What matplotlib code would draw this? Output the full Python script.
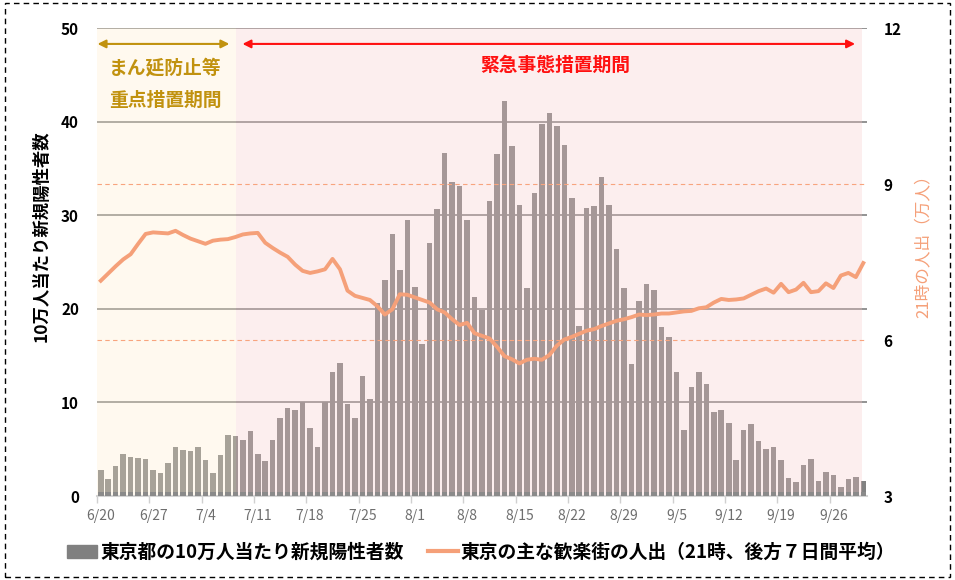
import matplotlib
matplotlib.use("Agg")
import matplotlib.pyplot as plt
from matplotlib.patches import Rectangle
from matplotlib.lines import Line2D
import numpy as np
import pandas as pd

plt.rcParams['font.family'] = ['Noto Sans CJK JP', 'DejaVu Sans']

# 2021/6/20 - 9/30, daily
dates = pd.date_range('2021-06-20', '2021-09-30')

# new positives per 100k (Tokyo)
cases = [2.78, 1.78, 3.24, 4.52, 4.17, 4.06, 3.92, 2.78, 2.42, 3.49,
         5.2, 4.91, 4.81, 5.2, 3.81, 2.49, 4.34, 6.55, 6.44, 5.98,
         6.94, 4.52, 3.7, 5.98, 8.3, 9.4, 9.22, 10.0, 7.3, 5.27,
         10.0, 13.2, 14.2, 9.8, 8.3, 12.85, 10.4, 20.65, 23.1, 27.96,
         24.2, 29.5, 22.3, 16.2, 27.0, 30.7, 36.7, 33.5, 33.1, 29.5,
         21.3, 19.9, 31.55, 36.5, 42.2, 37.4, 31.1, 22.25, 32.4, 39.7,
         40.9, 39.5, 37.5, 31.8, 18.2, 30.8, 31.0, 34.05, 31.1, 26.35,
         22.25, 14.1, 20.8, 22.7, 22.0, 18.1, 16.95, 13.3, 7.0, 11.7,
         13.2, 12.0, 8.94, 9.22, 7.76, 3.81, 7.0, 7.66, 5.84, 5.06,
         5.2, 3.81, 1.96, 1.5, 3.35, 3.99, 1.57, 2.6, 2.21, 1.0,
         1.78, 2.03, 1.57]

# people out at 21:00 in main nightlife districts (10k people, 7-day avg)
crowd = [7.14, 7.28, 7.42, 7.55, 7.65, 7.85, 8.04, 8.07, 8.06, 8.05,
         8.10, 8.02, 7.95, 7.90, 7.85, 7.91, 7.93, 7.94, 7.98, 8.03,
         8.05, 8.06, 7.87, 7.77, 7.68, 7.60, 7.45, 7.33, 7.29, 7.32,
         7.36, 7.56, 7.36, 6.95, 6.85, 6.81, 6.77, 6.65, 6.49, 6.59,
         6.88, 6.87, 6.82, 6.77, 6.72, 6.59, 6.53, 6.40, 6.29, 6.33,
         6.13, 6.08, 6.03, 5.87, 5.69, 5.63, 5.55, 5.62, 5.64, 5.62,
         5.71, 5.89, 6.01, 6.06, 6.12, 6.18, 6.21, 6.27, 6.32, 6.37,
         6.40, 6.44, 6.49, 6.48, 6.49, 6.51, 6.51, 6.53, 6.55, 6.56,
         6.61, 6.63, 6.72, 6.79, 6.77, 6.78, 6.80, 6.87, 6.94, 6.99,
         6.91, 7.08, 6.92, 6.97, 7.10, 6.92, 6.94, 7.09, 7.00, 7.24,
         7.29, 7.21, 7.48]

tick_labels = ['6/20', '6/27', '7/4', '7/11', '7/18', '7/25', '8/1', '8/8',
               '8/15', '8/22', '8/29', '9/5', '9/12', '9/19', '9/26']

x = np.arange(len(dates))

fig = plt.figure(figsize=(9.55, 5.8), dpi=100)
ax = fig.add_axes([0.1016, 0.1448, 0.8063, 0.8069])

# gridlines (left axis)
for v in [10, 20, 30, 40, 50]:
    ax.axhline(v, color='#8a8a8a', lw=1.3, zorder=0.5)

ax.bar(x, cases, width=0.74, color='#828282', zorder=1)

# period shading, drawn over the bars like the original
ax.axvspan(-0.5, 18.15, color='#ffeecd', alpha=0.3, lw=0, zorder=2)
ax.axvspan(18.15, 101.85, color='#f8c8c8', alpha=0.3, lw=0, zorder=2)

# darker strip at the foot of the bars
ax.bar(x, 0.38, width=0.74, color='#8a8a8a', zorder=3)

ax.set_xlim(-0.5, len(dates) - 0.5)
ax.set_ylim(0, 50)
ax.set_yticks([0, 10, 20, 30, 40, 50])
ax.set_xticks(x[::7])
ax.set_xticklabels(tick_labels, color='#6e6e6e', fontsize=10)
ax.set_xticks(x[::7] - 0.5, minor=True)
ax.tick_params(axis='x', which='major', length=0, pad=9)
ax.tick_params(axis='x', which='minor', length=5, width=1, color='#d0d0d0')
ax.tick_params(axis='y', length=0, pad=13, labelsize=11)
for t in ax.get_yticklabels():
    t.set_fontweight('bold')
for s in ['top', 'left', 'right']:
    ax.spines[s].set_visible(False)
ax.spines['bottom'].set_color('#d3d3d3')
ax.spines['bottom'].set_linewidth(1.5)
ax.set_ylabel('10万人当たり新規陽性者数', fontsize=12.5, fontweight='bold')
ax.yaxis.set_label_coords(-0.060, 0.556)

# period labels and arrows
ax.annotate('', xy=(-0.43, 48.3), xytext=(17.2, 48.3),
            arrowprops=dict(arrowstyle='<|-|>', color='#c1920f', lw=1.5,
                            mutation_scale=12, shrinkA=0, shrinkB=0), zorder=5)
ax.annotate('', xy=(18.96, 48.3), xytext=(100.9, 48.3),
            arrowprops=dict(arrowstyle='<|-|>', color='#ff1010', lw=1.5,
                            mutation_scale=12, shrinkA=0, shrinkB=0), zorder=5)
ax.text(8.66, 45.7, 'まん延防止等', color='#c1920f', fontsize=13.5,
        fontweight='bold', ha='center', va='center', zorder=5)
ax.text(8.66, 42.3, '重点措置期間', color='#c1920f', fontsize=13.5,
        fontweight='bold', ha='center', va='center', zorder=5)
ax.text(60.8, 46.0, '緊急事態措置期間', color='#ff1010', fontsize=13.5,
        fontweight='bold', ha='center', va='center', zorder=5)

# right axis: crowd line
ax2 = ax.twinx()
for v in [6, 9]:
    ax2.axhline(v, color='#f8a47e', lw=0.8, ls=(0, (4, 3)), zorder=0.5)
ax2.plot(x, crowd, color='#f5a079', lw=2.8, solid_joinstyle='round', zorder=3)
ax2.set_ylim(3, 12)
ax2.set_yticks([3, 6, 9, 12])
ax2.tick_params(axis='y', length=0, pad=12, labelsize=11)
for t in ax2.get_yticklabels():
    t.set_fontweight('bold')
for s in ['top', 'left', 'right', 'bottom']:
    ax2.spines[s].set_visible(False)
ax2.set_ylabel('21時の人出（万人）', color='#f5a079', fontsize=12, rotation=90)
ax2.yaxis.set_label_coords(1.062, 0.543)

# legend
handles = [Rectangle((0, 0), 1, 1, color='#808080'),
           Line2D([0], [0], color='#f5a079', lw=3)]
labels = ['東京都の10万人当たり新規陽性者数', '東京の主な歓楽街の人出（21時、後方７日間平均）']
leg = fig.legend(handles, labels, loc='center', bbox_to_anchor=(0.504, 0.048),
                 ncol=2, frameon=False, handlelength=1.6, handletextpad=0.15,
                 columnspacing=1.3, prop={'size': 13.5, 'weight': 'bold'})

# dashed outer border
fig.patches.append(Rectangle((0.005, 0.006), 0.99, 0.988, transform=fig.transFigure,
                             fill=False, ec='black', lw=1, ls=(0, (4, 3))))

fig.savefig('out.png', dpi=100)
